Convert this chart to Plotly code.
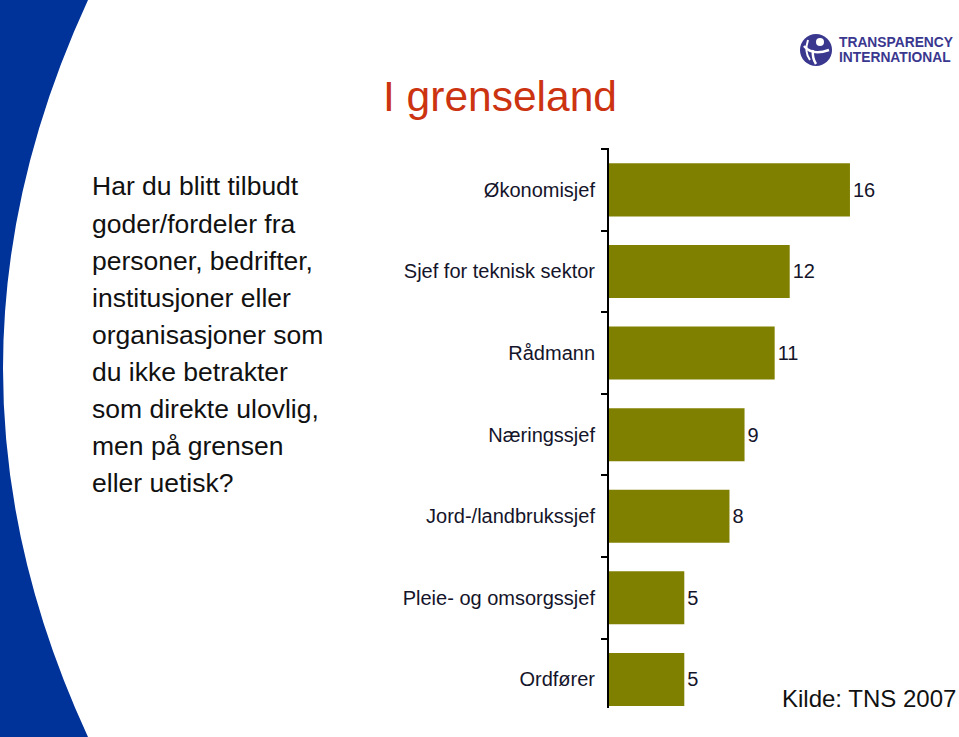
import plotly.graph_objects as go

# ---- data ----
categories = ["Økonomisjef", "Sjef for teknisk sektor", "Rådmann", "Næringssjef",
              "Jord-/landbrukssjef", "Pleie- og omsorgssjef", "Ordfører"]
values = [16, 12, 11, 9, 8, 5, 5]
value_labels = [str(v) for v in values]
title_text = "I grenseland"
question_lines = ["Har du blitt tilbudt", "goder/fordeler fra", "personer, bedrifter,",
                  "institusjoner eller", "organisasjoner som", "du ikke betrakter",
                  "som direkte ulovlig,", "men på grensen", "eller uetisk?"]
source_text = "Kilde: TNS 2007"
logo_lines = ["TRANSPARENCY", "INTERNATIONAL"]

W, H = 959, 737
def px(x):
    return x / W
def py(y):
    return 1 - y / H

FONT = "Liberation Sans, Arial, sans-serif"
BLUE = "#003399"
OLIVE = "#808000"
LOGO = "#3a378f"

fig = go.Figure()
fig.add_trace(go.Bar(
    x=values, y=categories, orientation="h",
    marker=dict(color=OLIVE, line=dict(width=0)),
    text=value_labels, textposition="outside",
    textfont=dict(family=FONT, size=20, color="#14142a"),
    cliponaxis=False, width=0.65, hoverinfo="skip",
))

shapes = []
# blue curved band on the left
shapes.append(dict(
    type="path", xref="paper", yref="paper",
    path=(f"M 0,{py(0)} L {px(88)},{py(0)} Q {px(-82)},{py(368.5)} {px(88)},{py(737)} "
          f"L 0,{py(737)} Z"),
    fillcolor=BLUE, line=dict(width=0), layer="below",
))
# logo mark
shapes.append(dict(type="circle", xref="paper", yref="paper",
                   x0=px(800), x1=px(832), y0=py(66), y1=py(34),
                   fillcolor=LOGO, line=dict(width=0)))
shapes.append(dict(type="circle", xref="paper", yref="paper",
                   x0=px(816), x1=px(824), y0=py(46), y1=py(38),
                   fillcolor="white", line=dict(width=0)))
shapes.append(dict(type="path", xref="paper", yref="paper",
                   path=(f"M {px(804)},{py(46)} Q {px(812)},{py(56)} {px(829)},{py(50)}"),
                   line=dict(color="white", width=2.5)))
shapes.append(dict(type="path", xref="paper", yref="paper",
                   path=(f"M {px(813)},{py(50)} Q {px(812)},{py(58)} {px(816)},{py(64)}"),
                   line=dict(color="white", width=2.5)))
shapes.append(dict(type="path", xref="paper", yref="paper",
                   path=(f"M {px(808)},{py(40)} Q {px(804)},{py(52)} {px(810)},{py(60)}"),
                   line=dict(color="white", width=2)))

annotations = []
annotations.append(dict(text=title_text, xref="paper", yref="paper",
                        x=px(500), y=py(97), xanchor="center", yanchor="middle",
                        showarrow=False,
                        font=dict(family=FONT, size=42.5, color="#cc3311")))
line_centers = [186, 224, 261, 298, 335, 372, 409, 446, 483]
for txt, yc in zip(question_lines, line_centers):
    annotations.append(dict(text=txt, xref="paper", yref="paper",
                            x=px(90), y=py(yc), xanchor="left", yanchor="middle",
                            showarrow=False,
                            font=dict(family=FONT, size=26.5, color="#111111")))
annotations.append(dict(text=source_text, xref="paper", yref="paper",
                        x=px(958), y=py(698), xanchor="right", yanchor="middle",
                        showarrow=False,
                        font=dict(family=FONT, size=24, color="#111111")))
for txt, yc in zip(logo_lines, [43, 58]):
    annotations.append(dict(text="<b>" + txt + "</b>", xref="paper", yref="paper",
                            x=px(837), y=py(yc), xanchor="left", yanchor="middle",
                            showarrow=False,
                            font=dict(family=FONT, size=13.8, color=LOGO)))

fig.update_layout(
    width=W, height=H, autosize=False,
    margin=dict(l=0, r=0, t=0, b=0, pad=0),
    paper_bgcolor="white", plot_bgcolor="white",
    showlegend=False, bargap=0.35,
    shapes=shapes, annotations=annotations,
    xaxis=dict(domain=[px(609), px(958)], range=[0, 349 / 15.06],
               visible=False, fixedrange=True),
    yaxis=dict(domain=[py(708), py(148)], type="category",
               range=[6.35, -0.513], showline=True, linecolor="#000000",
               linewidth=2, ticks="outside", ticklen=6, tickwidth=1.5,
               tickcolor="#000000", tickson="boundaries", showgrid=False,
               tickfont=dict(family=FONT, size=20, color="#14142a"),
               ticklabelstandoff=8, automargin=False, fixedrange=True),
)

fig.write_html("out.html", config={"displayModeBar": False},
               post_script="document.body.style.margin='0';document.body.style.overflow='hidden';")
